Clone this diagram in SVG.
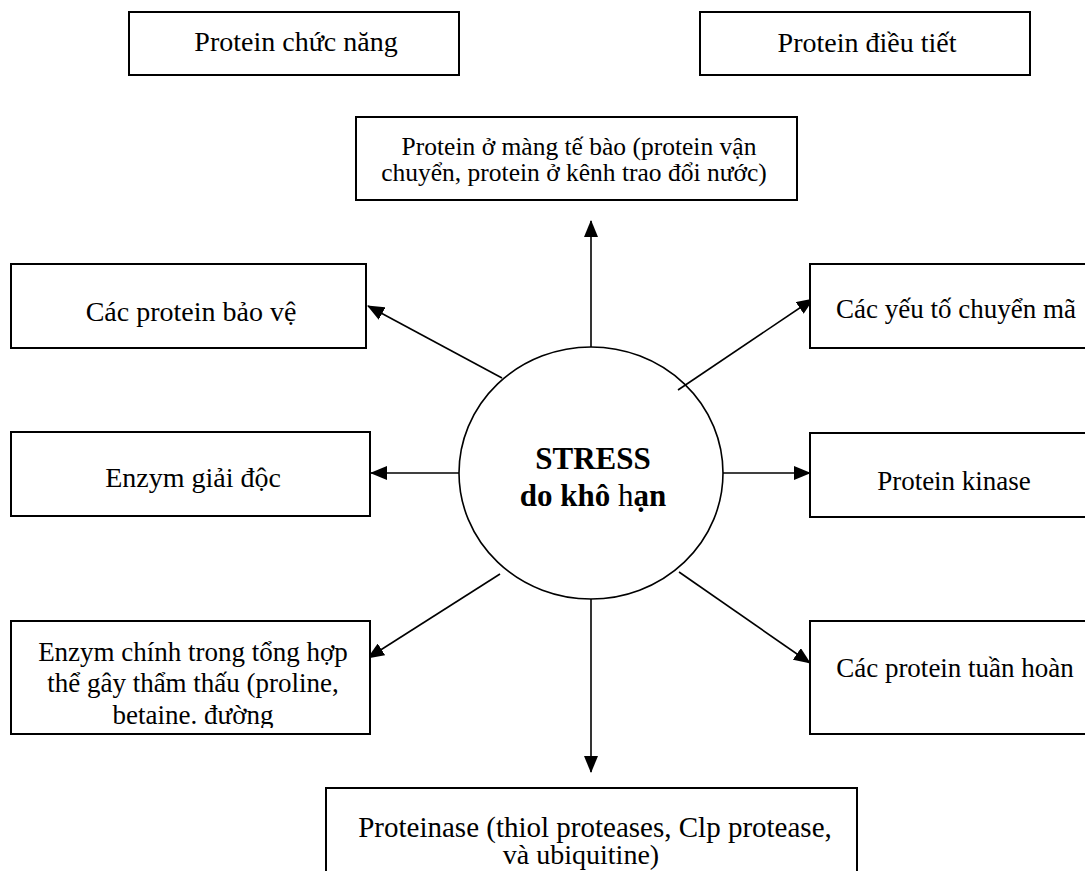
<svg xmlns="http://www.w3.org/2000/svg" width="1085" height="871" viewBox="0 0 1085 871">
<style>
.box{fill:#fff;stroke:#000;stroke-width:2}
.t{font-family:"Liberation Serif","Times New Roman",serif;font-size:28px;fill:#000;text-anchor:middle}
.s27{font-size:27px}
.s26{font-size:25.5px}
.b{font-weight:bold;font-size:31px}
.c{stroke:#000;stroke-width:1.6;fill:none}
</style>
<defs>
<marker id="ah" markerWidth="17" markerHeight="14" refX="16" refY="7" orient="auto" markerUnits="userSpaceOnUse">
<path d="M0,0 L17,7 L0,14 Z" fill="#000"/>
</marker>
<clipPath id="clipEnz"><rect x="11" y="621" width="359" height="107"/></clipPath>
</defs>
<rect width="1085" height="871" fill="#fff"/>
<g id="connectors">
<line class="c" x1="591" y1="347" x2="591" y2="221" marker-end="url(#ah)"/>
<line class="c" x1="591" y1="599" x2="591" y2="772" marker-end="url(#ah)"/>
<line class="c" x1="459" y1="473" x2="371" y2="473" marker-end="url(#ah)"/>
<line class="c" x1="723" y1="473" x2="810" y2="473" marker-end="url(#ah)"/>
<line class="c" x1="502" y1="378" x2="368" y2="306" marker-end="url(#ah)"/>
<line class="c" x1="678" y1="390" x2="813" y2="299" marker-end="url(#ah)"/>
<line class="c" x1="500" y1="574" x2="368" y2="658" marker-end="url(#ah)"/>
<line class="c" x1="679" y1="572" x2="810" y2="663" marker-end="url(#ah)"/>
</g>
<g id="node-stress">
<ellipse cx="591" cy="473" rx="132" ry="126" fill="none" stroke="#000" stroke-width="1.6"/>
<text class="t b" x="593" y="469">STRESS</text>
<text class="t b" x="593" y="506">do khô <tspan font-weight="normal">h</tspan>ạn</text>
</g>
<g id="node-chucnang">
<rect class="box" x="129" y="12" width="330" height="63"/>
<text class="t" x="296" y="51">Protein chức năng</text>
</g>
<g id="node-dieutiet">
<rect class="box" x="700" y="12" width="330" height="63"/>
<text class="t" x="867" y="52">Protein điều tiết</text>
</g>
<g id="node-mang">
<rect class="box" x="356" y="117" width="441" height="83"/>
<text class="t s26" x="579" y="155">Protein ở màng tế bào (protein vận</text>
<text class="t s26" x="574" y="181">chuyển, protein ở kênh trao đổi nước)</text>
</g>
<g id="node-baove">
<rect class="box" x="11" y="264" width="355" height="84"/>
<text class="t" x="191" y="321">Các protein bảo vệ</text>
</g>
<g id="node-giaidoc">
<rect class="box" x="11" y="432" width="359" height="84"/>
<text class="t" x="193" y="487">Enzym giải độc</text>
</g>
<g id="node-enzymchinh">
<rect class="box" x="11" y="621" width="359" height="113"/>
<g clip-path="url(#clipEnz)">
<text class="t s27" x="193" y="661">Enzym chính trong tổng hợp</text>
<text class="t s27" x="193" y="692">thể gây thẩm thấu (proline,</text>
<text class="t s27" x="193" y="724">betaine. đường</text>
</g>
</g>
<g id="node-chuyenma">
<rect class="box" x="810" y="264" width="300" height="84"/>
<text class="t s27" x="956" y="318">Các yếu tố chuyển mã</text>
</g>
<g id="node-kinase">
<rect class="box" x="810" y="433" width="300" height="84"/>
<text class="t s27" x="954" y="490">Protein kinase</text>
</g>
<g id="node-tuanhoan">
<rect class="box" x="810" y="621" width="300" height="113"/>
<text class="t s27" x="955" y="677">Các protein tuần hoàn</text>
</g>
<g id="node-proteinase">
<rect class="box" x="326" y="788" width="531" height="100"/>
<text class="t" x="595" y="837" style="font-size:29px">Proteinase (thiol proteases, Clp protease,</text>
<text class="t" x="581" y="864">và ubiquitine)</text>
</g>
</svg>
